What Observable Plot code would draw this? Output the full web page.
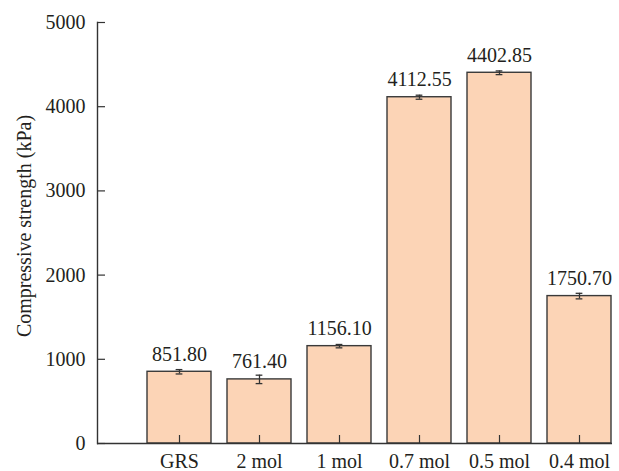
<!DOCTYPE html>
<html>
<head>
<meta charset="utf-8">
<script src="https://cdn.jsdelivr.net/npm/d3@7"></script>
<script src="https://cdn.jsdelivr.net/npm/@observablehq/plot@0.6"></script>
<style>
  html, body { margin: 0; padding: 0; background: #fff; }
  #chart svg { display: block; background: #fff; }
  #chart svg, #chart svg text, #chart svg g { font-family: "Liberation Serif", "DejaVu Serif", serif !important; }
</style>
</head>
<body>
<div id="chart"></div>
<script>
const categories = ["GRS", "2 mol", "1 mol", "0.7 mol", "0.5 mol", "0.4 mol"];
const strengths = [851.80, 761.40, 1156.10, 4112.55, 4402.85, 1750.70];
const errors = [26, 50, 20, 24, 22, 33];
const yTicks = [0, 1000, 2000, 3000, 4000, 5000];
const yLabel = "Compressive strength (kPa)";

const data = categories.map((c, i) => ({cat: c, value: strengths[i], err: errors[i]}));

const W = 619, H = 471;
const mL = 97, mR = 7, mT = 22, mB = 28;
const xStart = 146, xEnd = 612;
const padInner = 0.2;
const step = (xEnd - xStart) / (categories.length - padInner);
const bw = step * (1 - padInner);
const capW = 7;
const capInset = (bw - capW) / 2;
const frameW = W - mL - mR, frameH = H - mT - mB;
const tickLen = 8;
const font = "Liberation Serif";
const fs = 20;
const ink = "#231f20";

const chart = Plot.plot({
  width: W,
  height: H,
  marginLeft: mL,
  marginRight: mR,
  marginTop: mT,
  marginBottom: mB,
  style: {fontFamily: font, fontSize: fs + "px", color: ink, background: "#fff"},
  x: {type: "band", domain: categories, range: [xStart, xEnd], paddingInner: padInner, paddingOuter: 0, label: null},
  y: {domain: [0, 5000], label: null},
  marks: [
    Plot.barY(data, {x: "cat", y: "value", fill: "#fcd4b6", stroke: "#3a3a3a", strokeWidth: 1.4}),
    Plot.ruleX(data, {x: "cat", y1: d => d.value - d.err, y2: d => d.value + d.err, stroke: "#333", strokeWidth: 1.3}),
    Plot.tickY(data, {x: "cat", y: d => d.value - d.err, insetLeft: capInset, insetRight: capInset, stroke: "#333", strokeWidth: 1.3}),
    Plot.tickY(data, {x: "cat", y: d => d.value + d.err, insetLeft: capInset, insetRight: capInset, stroke: "#333", strokeWidth: 1.3}),
    Plot.text(data, {x: "cat", y: "value", text: d => d.value.toFixed(2), dy: -11, lineAnchor: "bottom", fill: ink, fontSize: fs, fontFamily: font}),
    Plot.frame({anchor: "left", stroke: "#333", strokeWidth: 1.4}),
    Plot.ruleY([0], {stroke: "#333", strokeWidth: 1.6}),
    Plot.tickY(yTicks, {y: d => d, insetRight: frameW - tickLen, stroke: "#333", strokeWidth: 1.2}),
    Plot.tickX(categories, {x: d => d, insetTop: frameH - tickLen, stroke: "#333", strokeWidth: 1.2}),
    Plot.axisY(yTicks, {tickSize: 0, tickPadding: 12, tickFormat: d => String(d), fontSize: fs, fontFamily: font, fill: ink, label: null}),
    Plot.axisX({tickSize: 0, tickPadding: 10, fontSize: fs, fontFamily: font, fill: ink, label: null}),
    Plot.text([yLabel], {text: d => d, frameAnchor: "left", rotate: -90, dx: -73, dy: -7, textAnchor: "middle", lineAnchor: "middle", fontSize: fs, fontFamily: font, fill: ink})
  ]
});
document.getElementById("chart").appendChild(chart);
</script>
</body>
</html>
